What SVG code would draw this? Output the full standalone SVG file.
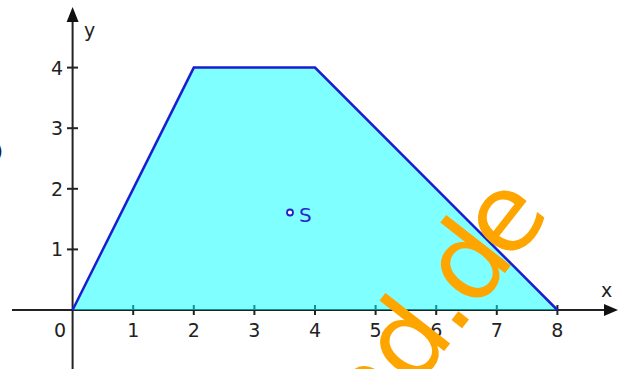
<svg xmlns="http://www.w3.org/2000/svg" width="620" height="369" viewBox="0 0 620 369">
<style>
.ax{stroke:#222;stroke-width:2;fill:none}
.tk{stroke:#222;stroke-width:2}
.num{font-family:"DejaVu Sans",Verdana,sans-serif;font-size:19px;fill:#222}
.wm{font-family:"DejaVu Sans",sans-serif;font-size:108px;fill:#FFA500}
</style>
<rect width="620" height="369" fill="#fff"/>
<text x="3" y="158" text-anchor="end" class="num" font-size="20">b)</text>
<g id="axes">
<line class="ax" x1="12" y1="310" x2="606" y2="310"/>
<polygon points="618,310 604,304 604,316" fill="#111"/>
<line class="ax" x1="72.6" y1="369" x2="72.6" y2="20"/>
<polygon points="72.6,7 66.6,22 78.6,22" fill="#111"/>
<g class="tk">
<line x1="133.2" y1="305" x2="133.2" y2="315"/>
<line x1="193.8" y1="305" x2="193.8" y2="315"/>
<line x1="254.4" y1="305" x2="254.4" y2="315"/>
<line x1="315" y1="305" x2="315" y2="315"/>
<line x1="375.6" y1="305" x2="375.6" y2="315"/>
<line x1="436.2" y1="305" x2="436.2" y2="315"/>
<line x1="496.8" y1="305" x2="496.8" y2="315"/>
<line x1="557.4" y1="305" x2="557.4" y2="315"/>
<line x1="67" y1="249.4" x2="78" y2="249.4"/>
<line x1="67" y1="188.8" x2="78" y2="188.8"/>
<line x1="67" y1="128.2" x2="78" y2="128.2"/>
<line x1="67" y1="67.6" x2="78" y2="67.6"/>
</g>
<g class="num" text-anchor="middle">
<text x="60" y="337">0</text>
<text x="133.2" y="337">1</text>
<text x="193.8" y="337">2</text>
<text x="254.4" y="337">3</text>
<text x="315" y="337">4</text>
<text x="375.6" y="337">5</text>
<text x="436.2" y="337">6</text>
<text x="496.8" y="337">7</text>
<text x="557.4" y="337">8</text>
</g>
<g class="num" text-anchor="end">
<text x="63" y="256">1</text>
<text x="63" y="195.5">2</text>
<text x="63" y="135">3</text>
<text x="63" y="74.5">4</text>
</g>
<text class="num" x="84" y="37">y</text>
<text class="num" x="601" y="297">x</text>
</g>
<g id="trapezoid">
<polygon points="72.6,310 193.8,67.6 315,67.6 557.4,310" fill="#00ffff" fill-opacity="0.5"/>
<polyline points="72.6,310 193.8,67.6 315,67.6 557.4,310" fill="none" stroke="#1c1cd0" stroke-width="2.5" stroke-linejoin="miter"/>
</g>
<g id="S">
<circle cx="290" cy="212.5" r="3" fill="#fff" stroke="#2222cc" stroke-width="1.8"/>
<text x="299" y="222" font-family="DejaVu Sans,Verdana,sans-serif" font-size="20" fill="#2a2acc">S</text>
</g>
<text class="wm" transform="translate(373,442) rotate(-52)" letter-spacing="-2">nd.d<tspan dx="-8">e</tspan></text>
</svg>
